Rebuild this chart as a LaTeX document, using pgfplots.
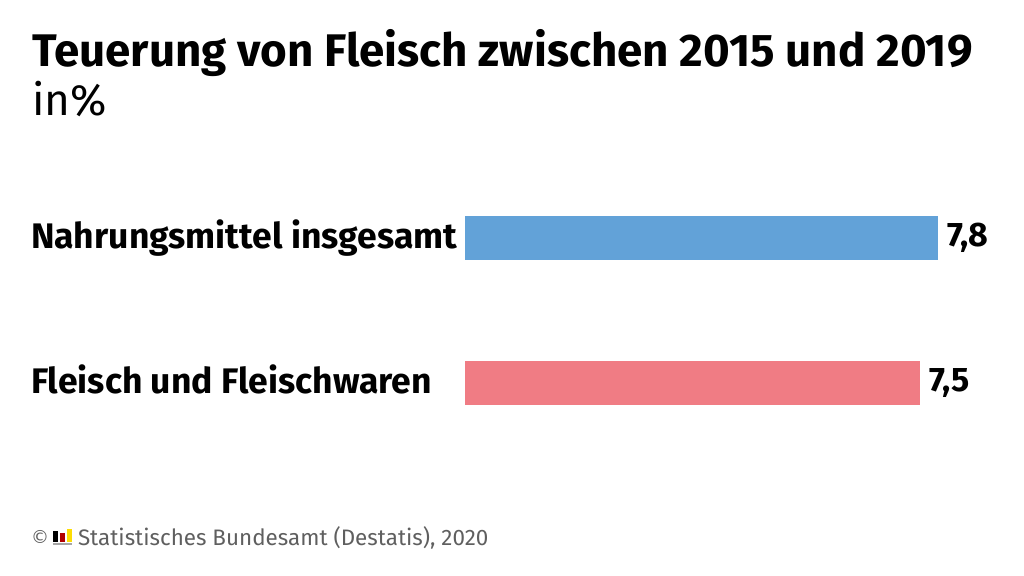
\documentclass[border=0pt]{standalone}
\usepackage{pgfplots}
\pgfplotsset{compat=1.18}
\usepackage{fontspec}
\setmainfont{Fira Sans}
\newfontfamily\symfont{DejaVu Sans}
\definecolor{barblue}{HTML}{62A2D8}
\definecolor{barred}{HTML}{F07C84}
\definecolor{foot}{HTML}{5F5F5F}
\begin{document}
\begin{tikzpicture}[x=1pt,y=1pt]
\path[use as bounding box] (0pt,0pt) rectangle (1024pt,575pt);
\begin{axis}[
    at={(465pt,0pt)},anchor=south west,
    xbar,
    bar shift=0pt,
    axis lines=none,
    width=559pt,height=575pt,
    scale only axis,
    xmin=0,xmax=9.209,
    ymin=0,ymax=575,
    y=1pt,
    bar width=44pt,
    clip=false,
    point meta=explicit symbolic,
    nodes near coords,
    nodes near coords style={font=\bfseries\fontsize{34}{34}\selectfont,black,anchor=west,inner sep=0pt,xshift=9pt},
]
\addplot[draw=none,fill=barblue] coordinates {(7.8,337) [{7,8}]};
\addplot[draw=none,fill=barred] coordinates {(7.5,192) [{7,5}]};
\end{axis}
\tikzset{every node/.style={inner sep=0pt,outer sep=0pt}}
\node[anchor=base west,font=\bfseries\fontsize{45.7}{45.7}\selectfont] at (32pt,508pt) {Teuerung von Fleisch zwischen 2015 und 2019};
\node[anchor=base west,font=\fontsize{44}{44}\selectfont] at (32pt,459pt) {in\%};
\node[anchor=base west,font=\bfseries\fontsize{35.5}{35.5}\selectfont] at (31pt,326pt) {Nahrungsmittel insgesamt};
\node[anchor=base west,font=\bfseries\fontsize{35.5}{35.5}\selectfont] at (31pt,181pt) {Fleisch und Fleischwaren};
\node[anchor=base west,font=\symfont\fontsize{18}{18}\selectfont,text=foot] at (31pt,31pt) {©};
\node[anchor=base west,font=\fontsize{22.4}{22.4}\selectfont,text=foot] at (78pt,30pt) {Statistisches Bundesamt (Destatis), 2020};
\fill[black] (53pt,33pt) rectangle (58pt,44pt);
\fill[red!70!black] (60pt,33pt) rectangle (65pt,42pt);
\fill[yellow!80!orange] (66.5pt,33pt) rectangle (71.5pt,46pt);
\fill[black!35] (53pt,30pt) rectangle (72pt,32pt);
\end{tikzpicture}
\end{document}
